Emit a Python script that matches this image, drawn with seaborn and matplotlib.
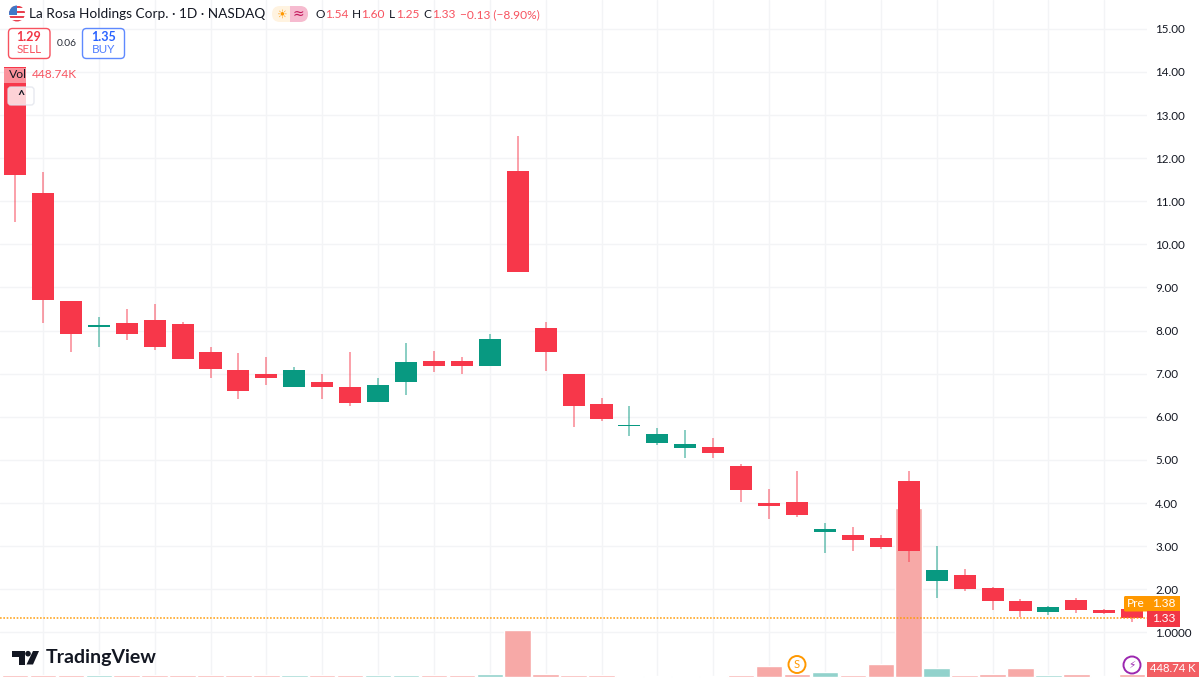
import pandas as pd
import matplotlib.pyplot as plt
import seaborn as sns
from matplotlib.patches import Circle, FancyBboxPatch, Polygon, Rectangle

sns.set_theme(style="white")
plt.rcParams['font.family'] = ['Lato', 'DejaVu Sans']

# ===== DATA =====
opens = [14.11, 11.20, 8.69, 8.09, 8.17, 8.25, 8.15, 7.51, 7.09, 6.99, 6.70, 6.81, 6.70, 6.34, 6.80, 7.30,
         7.29, 7.19, 11.70, 8.06, 7.00, 6.30, 5.79, 5.40, 5.28, 5.29, 4.86, 4.01, 4.02, 3.33, 3.26, 3.19,
         4.50, 2.18, 2.32, 2.02, 1.72, 1.46, 1.76, 1.51, 1.54]
highs = [14.11, 11.69, 8.69, 8.31, 8.50, 8.61, 8.19, 7.63, 7.47, 7.38, 7.15, 6.99, 7.50, 6.89, 7.72, 7.53,
         7.39, 7.91, 12.52, 8.19, 7.00, 6.44, 6.25, 5.73, 5.69, 5.50, 4.90, 4.32, 4.74, 3.53, 3.45, 3.25,
         4.74, 3.00, 2.48, 2.06, 1.77, 1.61, 1.80, 1.55, 1.60]
lows = [10.52, 8.18, 7.51, 7.63, 7.78, 7.55, 7.35, 6.91, 6.41, 6.74, 6.70, 6.41, 6.26, 6.34, 6.51, 7.05,
        7.00, 7.19, 9.35, 7.06, 5.77, 5.91, 5.56, 5.35, 5.05, 5.04, 4.02, 3.64, 3.68, 2.85, 2.88, 2.93,
        2.63, 1.80, 1.95, 1.52, 1.35, 1.39, 1.45, 1.42, 1.25]
closes = [11.60, 8.71, 7.92, 8.14, 7.91, 7.61, 7.35, 7.10, 6.60, 6.91, 7.08, 6.68, 6.33, 6.74, 7.28, 7.19,
          7.19, 7.80, 9.35, 7.51, 6.25, 5.96, 5.81, 5.60, 5.37, 5.17, 4.30, 3.92, 3.71, 3.39, 3.15, 2.98,
          2.88, 2.45, 2.00, 1.73, 1.49, 1.59, 1.51, 1.45, 1.33]
volumes_k = [300, 300, 300, 300, 300, 300, 300, 300, 300, 300, 300, 300, 300, 300, 300, 300,
             300, 400, 6400, 450, 230, 230, 200, 200, 200, 200, 230, 1450, 450, 620, 220, 1720,
             23000, 1180, 330, 450, 1180, 330, 450, 200, 448.74]
price_ticks = [1, 2, 3, 4, 5, 6, 7, 8, 9, 10, 11, 12, 13, 14, 15]
price_labels = ['1.0000', '2.00', '3.00', '4.00', '5.00', '6.00', '7.00', '8.00', '9.00', '10.00',
                '11.00', '12.00', '13.00', '14.00', '15.00']
last_price = 1.33

RED = '#F7374A'
GREEN = '#089981'
INK = '#131722'
GRID = '#F3F4F6'
SELL = '#F7525F'
BLUE = '#2962FF'
ORANGE = '#FF9800'

df = pd.DataFrame({'open': opens, 'high': highs, 'low': lows, 'close': closes, 'vol': volumes_k})
df['i'] = range(len(df))
df['side'] = ['up' if c >= o else 'down' for o, c in zip(df['open'], df['close'])]

XLIM = (-15 / 27.93, 1132 / 27.93)
YLIM = (1 - 45.7 / 43.1, 1 + 632.3 / 43.1)
rect = [0, 0, 1147 / 1200, 1]

fig = plt.figure(figsize=(12, 6.78), dpi=100)
# three layers: grid at the back, then volume, then candles
ax_grid = fig.add_axes(rect, zorder=0)
ax_vol = fig.add_axes(rect, zorder=1)
ax = fig.add_axes(rect, zorder=2)
ax_vol.patch.set_visible(False)
ax.patch.set_visible(False)

# ===== GRID =====
ax_grid.set_xlim(XLIM)
ax_grid.set_ylim(YLIM)
ax_grid.set_xticks(df['i'][1::2], [''] * len(df['i'][1::2]))
ax_grid.set_yticks(price_ticks, [''] * len(price_ticks))
ax_grid.tick_params(length=0)
ax_grid.grid(True, color=GRID, lw=1)

# ===== VOLUME =====
sns.barplot(data=df, x='i', y='vol', hue='side', palette={'up': '#92D2CC', 'down': '#F7A9A7'},
            native_scale=True, dodge=False, width=0.95, saturation=1, legend=False, ax=ax_vol)
ax_vol.set_xlim(XLIM)
ax_vol.set_ylim(-1.0 * 136, 677 * 136)
ax_vol.set_xticks([])
ax_vol.set_yticks([])
ax_vol.set_xlabel('')
ax_vol.set_ylabel('')

# ===== CANDLES =====
for side, color in [('up', GREEN), ('down', RED)]:
    part = df[df['side'] == side]
    ax.vlines(part['i'], part['low'], part['high'], color=color, lw=1.1, alpha=0.6, zorder=3)
    ax.bar(part['i'], (part['close'] - part['open']).abs(), bottom=part[['open', 'close']].min(axis=1),
           width=0.79, color=color, lw=0, zorder=4)

ax.axhline(last_price, color=ORANGE, lw=1.2, ls=(0, (1, 1)), alpha=0.85, zorder=5)

ax.set_xlim(XLIM)
ax.set_ylim(YLIM)
ax.set_xticks([])
ax.set_yticks(price_ticks, price_labels, fontsize=8.4, color=INK)
ax.yaxis.tick_right()
ax.tick_params(axis='y', length=0, pad=6)
for a in (ax, ax_vol, ax_grid):
    for s in a.spines.values():
        s.set_visible(False)

# ===== OVERLAY: header, badges, logo (pixel coordinates) =====
ov = fig.add_axes([0, 0, 1, 1], zorder=3)
ov.set_xlim(0, 1200)
ov.set_ylim(678, 0)
ov.axis('off')


def box(x, y, w, h, fc, ec='none', r=0, lw=1.0, alpha=None):
    p = FancyBboxPatch((x + r, y + r), w - 2 * r, h - 2 * r, boxstyle=f'round,pad={r},rounding_size={r}',
                       fc=fc, ec=ec, lw=lw, alpha=alpha, mutation_aspect=1)
    ov.add_patch(p)


def label(x, y, s, color=INK, size=8.6, ha='left', weight='normal', **kw):
    ov.text(x, y, s, color=color, fontsize=size, ha=ha, va='center', fontweight=weight, **kw)


# flag
flag = Circle((17, 13.5), 8, fc='white', ec='none')
ov.add_patch(flag)
for yy in [5.5, 10.5, 15.5, 19.5]:
    r = Rectangle((8, yy), 18, 2.4, fc='#E8414F', ec='none')
    ov.add_patch(r)
    r.set_clip_path(flag)
canton = Rectangle((8, 4.5), 9, 10, fc='#3F78C8', ec='none')
ov.add_patch(canton)
canton.set_clip_path(flag)

label(29, 14.5, 'La Rosa Holdings Corp. · 1D · NASDAQ', size=9.8)

# session pills
box(272, 6, 36, 16, '#FFF3E0', r=8)
ov.add_patch(Rectangle((290, 6), 10, 16, fc='#F6BBD0', ec='none'))
box(292, 6, 16, 16, '#F6BBD0', r=8)
label(281, 14, '☀', color=ORANGE, size=8.5, ha='center', family='DejaVu Sans')
label(298, 14, '≈', color='#C2185B', size=10, ha='center', family='DejaVu Sans')

# OHLC legend
for x, s, c in [(315, 'O', INK), (325, '1.54', SELL), (352, 'H', INK), (361, '1.60', SELL), (389, 'L', INK),
                (396, '1.25', SELL), (423, 'C', INK), (432, '1.33', SELL), (460, '−0.13 (−8.90%)', SELL)]:
    label(x, 14.5, s, color=c, size=8.6)

# sell / buy
box(8.5, 28.5, 41.5, 30, 'white', ec=SELL, r=4)
label(29, 36.7, '1.29', color='#F23645', ha='center', weight='bold', size=9)
label(29, 49.5, 'SELL', color=SELL, ha='center', size=8.4)
label(67, 43.3, '0.06', size=7.4, ha='center', color='#2A2E39')
box(82.5, 28.5, 42, 30, 'white', ec=BLUE, r=4, alpha=0.75)
label(103.5, 36.7, '1.35', color=BLUE, ha='center', weight='bold', size=9)
label(103.5, 49.5, 'BUY', color='#4F7DFF', ha='center', size=8.4)

# volume legend over the first candle
ov.add_patch(Rectangle((4, 68), 22, 15, fc='white', ec='none', alpha=0.45))
label(9, 74.5, 'Vol', size=8.8)
label(32, 74.5, '448.74K', color=SELL, size=8.6)
box(8, 87, 26, 18, 'white', ec='#E0E3EB', r=3, alpha=0.78)
label(21, 96, '^', size=9, ha='center', weight='bold')

# price labels
box(1124, 596, 24, 15.5, ORANGE, r=1.5)
ov.add_patch(Rectangle((1147, 596), 33, 15.5, fc=ORANGE, ec='none'))
ov.add_patch(Rectangle((1147, 611), 33, 15.5, fc='#F23645', ec='none'))
label(1135.5, 603.5, 'Pre', color='white', ha='center', size=8.6)
label(1163.5, 603.5, '1.38', color='white', ha='center', size=8.6)
label(1163.5, 618.5, '1.33', color='white', ha='center', size=8.6)
ov.add_patch(Rectangle((1147, 661.5), 52, 15.5, fc='#F25E63', ec='none'))
label(1173, 669, '448.74 K', color='white', ha='center', size=8.2)

# event markers
ov.add_patch(Circle((797, 664.5), 8.5, fc='white', ec=ORANGE, lw=1.4))
label(797, 664.5, 'S', color=ORANGE, ha='center', size=8)
ov.add_patch(Circle((1132, 665), 8.5, fc='white', ec='#9C27B0', lw=1.4))
label(1132, 665, '⚡', color='#9C27B0', ha='center', size=7.5, family='DejaVu Sans')

# logo
ov.add_patch(Polygon([(12, 651), (25, 651), (25, 664.5), (19, 664.5), (19, 656.5), (12, 656.5)], fc=INK, ec='none'))
ov.add_patch(Circle((28, 653.7), 2.8, fc=INK, ec='none'))
ov.add_patch(Polygon([(33, 651), (39, 651), (33, 664.5), (26.5, 664.5)], fc=INK, ec='none'))
label(46, 657.5, 'TradingView', size=14, weight='bold', color=INK)

plt.savefig('out.png', dpi=100)
